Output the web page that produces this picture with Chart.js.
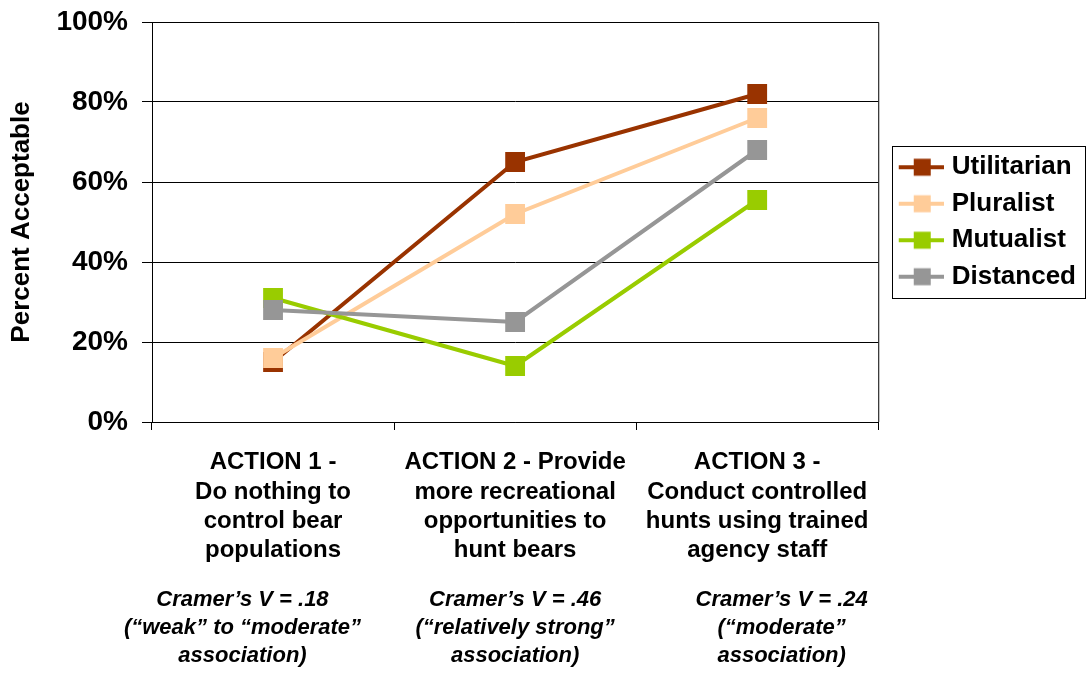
<!DOCTYPE html>
<html>
<head>
<meta charset="utf-8">
<script src="https://cdn.jsdelivr.net/npm/chart.js@4"></script>
<style>
  body { margin: 0; background: #fff; }
  #wrap { width: 1089px; height: 673px; }
</style>
</head>
<body>
<div id="wrap"><canvas id="chart" width="1089" height="673"></canvas></div>
<script>
var actions = [
  ['ACTION 1 -', 'Do nothing to', 'control bear', 'populations'],
  ['ACTION 2 - Provide', 'more recreational', 'opportunities to', 'hunt bears'],
  ['ACTION 3 -', 'Conduct controlled', 'hunts using trained', 'agency staff']
];
var cramer = [
  ['Cramer\u2019s V = .18', '(\u201cweak\u201d to \u201cmoderate\u201d', 'association)'],
  ['Cramer\u2019s V = .46', '(\u201crelatively strong\u201d', 'association)'],
  ['Cramer\u2019s V = .24', '(\u201cmoderate\u201d', 'association)']
];
var seriesNames = ['Utilitarian', 'Pluralist', 'Mutualist', 'Distanced'];
var seriesColors = ['#993300', '#FFCC99', '#99CC00', '#969696'];
var utilitarian = [15, 65, 82];
var pluralist = [16, 52, 76];
var mutualist = [31, 14, 55.5];
var distanced = [28, 25, 68];
var yTicks = [0, 20, 40, 60, 80, 100];

var FONT = 'Arial, "Liberation Sans", sans-serif';

// the Cramer notes sit a bit off-centre under actions 1 and 3; nudge with nbsp padding
var cramerNudge = [-10, 0, 8];
function nudge(lines, n) {
  var pad = new Array(Math.abs(n) + 1).join('\u00a0');
  return lines.map(function(s) { return n < 0 ? s + pad : pad + s; });
}
var cramerLabels = cramer.map(function(l, i) { return nudge(l, cramerNudge[i]); });

// legend swatch: short line with a square marker on it
function swatch(color) {
  var c = document.createElement('canvas');
  c.width = 60; c.height = 20;
  var g = c.getContext('2d');
  g.strokeStyle = color; g.lineWidth = 4;
  g.beginPath(); g.moveTo(15, 10); g.lineTo(60, 10); g.stroke();
  g.fillStyle = color; g.fillRect(30, 1.5, 17, 17);
  return c;
}

var allValues = [utilitarian, pluralist, mutualist, distanced];
var datasets = [];
for (var i = 0; i < seriesNames.length; i++) {
  datasets.push({
    label: seriesNames[i],
    data: allValues[i],
    borderColor: seriesColors[i],
    backgroundColor: seriesColors[i],
    borderWidth: 4,
    pointStyle: 'rect',
    pointRadius: 14,
    pointHoverRadius: 14,
    pointBorderWidth: 0,
    order: seriesNames.length - i,
    tension: 0
  });
}

var frame = {
  id: 'frame',
  afterDatasetsDraw: function(chart) {
    var a = chart.chartArea, ctx = chart.ctx;
    ctx.save();
    ctx.strokeStyle = '#000'; ctx.lineWidth = 1;
    ctx.beginPath();
    ctx.moveTo(a.left, a.top + 0.5); ctx.lineTo(a.right + 0.5, a.top + 0.5);
    ctx.lineTo(a.right + 0.5, a.bottom);
    ctx.stroke();
    ctx.restore();
  },
  afterDraw: function(chart) {
    var l = chart.legend, ctx = chart.ctx;
    if (!l || !l.legendHitBoxes.length) return;
    var boxes = l.legendHitBoxes;
    var first = boxes[0], last = boxes[boxes.length - 1];
    var right = 0;
    boxes.forEach(function(b) { right = Math.max(right, b.left + b.width); });
    var x0 = Math.round(first.left + 3), y0 = Math.round(first.top - 8);
    var x1 = Math.round(right + 9), y1 = Math.round(last.top + last.height + 8);
    ctx.save();
    ctx.strokeStyle = '#000'; ctx.lineWidth = 1;
    ctx.strokeRect(x0 + 0.5, y0 + 0.5, x1 - x0, y1 - y0);
    ctx.restore();
  }
};

new Chart(document.getElementById('chart'), {
  type: 'line',
  data: { labels: actions, datasets: datasets },
  plugins: [frame],
  options: {
    responsive: false,
    animation: false,
    layout: { padding: { top: 0, right: 3, left: 0, bottom: 0 } },
    plugins: {
      tooltip: { enabled: false },
      legend: {
        position: 'right',
        fullSize: false,
        labels: {
          usePointStyle: true,
          pointStyleWidth: 50,
          boxHeight: 20,
          padding: 10.5,
          color: '#000',
          font: { family: FONT, size: 26, weight: 'bold' },
          sort: function(a, b) { return a.datasetIndex - b.datasetIndex; },
          generateLabels: function(chart) {
            return chart.data.datasets.map(function(ds, i) {
              return {
                text: ds.label,
                datasetIndex: i,
                pointStyle: swatch(ds.borderColor),
                fillStyle: ds.borderColor,
                strokeStyle: ds.borderColor,
                lineWidth: 0,
                hidden: false,
                fontColor: '#000'
              };
            });
          }
        }
      }
    },
    scales: {
      x: {
        type: 'category',
        weight: 0,
        offset: true,
        afterFit: function(axis) { axis.height = 150; },
        grid: { display: true, drawOnChartArea: false, offset: true, color: '#000', tickLength: 8 },
        border: { display: true, color: '#000', width: 1 },
        ticks: {
          color: '#000',
          maxRotation: 0,
          autoSkip: false,
          padding: 18,
          font: { family: FONT, size: 24, weight: 'bold', lineHeight: 1.22 }
        }
      },
      x2: {
        type: 'category',
        position: 'bottom',
        weight: 1,
        labels: cramerLabels,
        offset: true,
        afterFit: function(axis) { axis.height = 101; },
        grid: { display: false },
        border: { display: false },
        ticks: {
          color: '#000',
          maxRotation: 0,
          autoSkip: false,
          padding: 6,
          font: { family: FONT, size: 22, weight: 'bold', style: 'italic', lineHeight: 1.27 }
        }
      },
      y: {
        min: 0,
        max: 100,
        afterFit: function(axis) { axis.width = 152; axis.paddingTop = 22; },
        afterBuildTicks: function(axis) {
          axis.ticks = yTicks.map(function(v) { return { value: v }; });
        },
        grid: { color: '#000', lineWidth: 1, tickLength: 10, drawTicks: true },
        border: { display: true, color: '#000', width: 1 },
        ticks: {
          color: '#000',
          padding: 14,
          font: { family: FONT, size: 28, weight: 'bold' },
          callback: function(v) { return v + '%'; }
        },
        title: {
          display: true,
          text: 'Percent Acceptable',
          color: '#000',
          padding: { top: 6, bottom: 0 },
          font: { family: FONT, size: 26, weight: 'bold' }
        }
      }
    }
  }
});
</script>
</body>
</html>
